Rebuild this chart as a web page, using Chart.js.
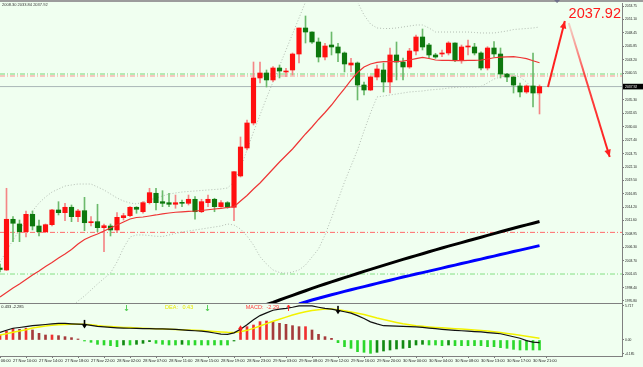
<!DOCTYPE html>
<html>
<head>
<meta charset="utf-8">
<script src="https://cdn.jsdelivr.net/npm/chart.js@4.4.1/dist/chart.umd.min.js"></script>
<style>
  html, body { margin: 0; padding: 0; background: #f0fff0; }
  canvas { display: block; }
</style>
</head>
<body>
<canvas id="xauChart" width="643" height="367"></canvas>
<script>
// H1 candles, 27 Nov 08:00 .. 30 Nov 22:00
const opens = [
  2002.28, 2001.89, 2011.85, 2010.93, 2009.41, 2012.83, 2010.53, 2009.41, 2010.79, 2013.68,
  2013.15, 2014.21, 2012.36, 2013.54, 2011.18, 2011.38, 2010.20, 2010.53, 2009.75, 2012.17,
  2012.56, 2014.21, 2013.34, 2015.11, 2016.96, 2015.31, 2015.11, 2014.80, 2015.11, 2014.99,
  2015.78, 2013.34, 2015.11, 2015.78, 2014.33, 2015.11, 2014.21, 2020.36, 2025.86, 2030.77,
  2039.61, 2040.59, 2039.22, 2041.57, 2040.79, 2041.18, 2044.32, 2049.43, 2048.64, 2046.68,
  2043.73, 2046.09, 2045.70, 2044.52, 2042.16, 2042.55, 2038.23, 2037.25, 2039.80, 2041.18,
  2038.82, 2044.13, 2042.75, 2041.77, 2044.91, 2047.66, 2046.09, 2044.13, 2044.32, 2044.52,
  2046.48, 2043.14, 2045.70, 2045.70, 2044.52, 2041.57, 2045.50, 2044.32, 2040.39, 2039.80,
  2038.04, 2036.86, 2038.04, 2036.66
];
const highs = [
  2003.07, 2017.94, 2012.36, 2011.71, 2013.48, 2013.48, 2011.71, 2010.93, 2013.82, 2015.31,
  2014.99, 2014.66, 2013.82, 2016.17, 2012.36, 2014.80, 2010.93, 2010.93, 2013.15, 2013.03,
  2014.33, 2014.33, 2015.31, 2017.94, 2017.94, 2017.47, 2016.96, 2016.62, 2015.64, 2016.62,
  2016.29, 2015.78, 2016.62, 2015.98, 2015.51, 2015.31, 2021.20, 2028.02, 2031.36, 2042.75,
  2042.75, 2041.18, 2041.83, 2042.16, 2041.51, 2044.52, 2049.43, 2051.79, 2048.70, 2047.47,
  2046.42, 2048.64, 2046.42, 2044.72, 2043.48, 2042.75, 2038.82, 2040.00, 2042.16, 2042.55,
  2045.50, 2046.68, 2043.54, 2045.44, 2048.05, 2049.23, 2046.42, 2044.46, 2045.11, 2046.74,
  2046.54, 2046.09, 2047.07, 2046.42, 2044.77, 2045.76, 2046.74, 2045.50, 2040.53, 2039.86,
  2038.63, 2038.23, 2044.52, 2038.23
];
const lows = [
  2001.50, 2001.79, 2007.45, 2007.45, 2008.37, 2009.75, 2008.57, 2009.22, 2010.53, 2012.70,
  2011.58, 2011.38, 2011.38, 2009.61, 2010.53, 2009.41, 2005.49, 2008.57, 2009.22, 2011.71,
  2012.36, 2013.03, 2013.03, 2014.86, 2013.68, 2014.33, 2014.33, 2014.01, 2014.33, 2014.66,
  2011.85, 2013.15, 2014.33, 2013.34, 2014.21, 2014.01, 2011.58, 2020.16, 2025.46, 2030.38,
  2038.63, 2037.84, 2038.88, 2039.61, 2039.86, 2040.20, 2042.55, 2046.48, 2046.42, 2042.75,
  2043.14, 2044.13, 2042.81, 2040.79, 2040.85, 2035.29, 2036.27, 2037.11, 2039.22, 2036.86,
  2036.66, 2039.22, 2039.22, 2041.51, 2044.13, 2045.11, 2043.48, 2043.48, 2043.79, 2044.13,
  2042.81, 2042.50, 2044.13, 2044.13, 2041.18, 2041.18, 2043.73, 2039.61, 2038.88, 2036.66,
  2035.88, 2036.60, 2033.91, 2032.54
];
const closes = [
  2001.99, 2011.85, 2011.07, 2009.41, 2012.83, 2010.53, 2009.41, 2010.79, 2013.68, 2013.15,
  2014.21, 2012.36, 2013.48, 2011.18, 2011.38, 2010.20, 2010.59, 2009.75, 2012.24, 2012.56,
  2014.21, 2013.82, 2015.11, 2017.08, 2015.11, 2014.99, 2014.80, 2015.11, 2014.99, 2015.78,
  2013.34, 2015.31, 2015.78, 2014.33, 2015.11, 2014.21, 2021.20, 2026.05, 2030.77, 2039.61,
  2040.59, 2039.22, 2041.57, 2040.98, 2040.98, 2044.32, 2049.43, 2048.64, 2046.68, 2043.73,
  2045.89, 2045.70, 2044.52, 2042.36, 2042.55, 2038.23, 2037.25, 2039.80, 2041.38, 2038.82,
  2044.13, 2042.75, 2041.77, 2044.91, 2047.66, 2045.70, 2044.13, 2043.73, 2044.52, 2046.48,
  2043.14, 2045.70, 2045.89, 2044.52, 2041.57, 2045.50, 2044.32, 2040.39, 2039.80, 2038.23,
  2036.86, 2038.04, 2036.66, 2037.92
];

// moving average (thin red) and bollinger bands (dotted)
const maRed = [
  1996.59, 1997.47, 1998.36, 1999.14, 2000.03, 2000.91, 2001.69, 2002.58, 2003.36, 2004.25,
  2005.03, 2005.92, 2007.00, 2007.88, 2008.47, 2008.96, 2009.55, 2010.14, 2010.73, 2011.32,
  2011.91, 2012.20, 2012.30, 2012.50, 2012.70, 2012.93, 2013.09, 2013.23, 2013.32, 2013.42,
  2013.48, 2013.58, 2013.72, 2013.87, 2014.01, 2014.17, 2014.33, 2015.45, 2016.53, 2017.80,
  2018.98, 2020.36, 2021.73, 2023.11, 2024.38, 2025.66, 2027.13, 2028.61, 2029.98, 2031.46,
  2032.83, 2034.30, 2035.97, 2037.54, 2039.21, 2040.69, 2041.77, 2042.36, 2042.69, 2042.81,
  2042.81, 2042.81, 2042.95, 2043.14, 2043.40, 2043.67, 2043.44, 2043.14, 2043.08, 2043.05,
  2043.03, 2043.01, 2043.05, 2043.08, 2043.14, 2043.34, 2043.58, 2043.69, 2043.77, 2043.79,
  2043.63, 2043.42, 2042.99, 2042.61
];
const bbUpper = [
  2003.46, 2005.62, 2007.78, 2009.75, 2011.71, 2013.48, 2015.05, 2016.23, 2017.21, 2017.80,
  2018.39, 2018.59, 2018.78, 2018.78, 2018.78, 2018.20, 2017.61, 2016.82, 2016.03, 2015.45,
  2015.05, 2014.86, 2015.25, 2015.64, 2016.03, 2016.43, 2016.82, 2017.02, 2017.21, 2017.31,
  2017.41, 2017.51, 2017.61, 2017.70, 2017.80, 2018.00, 2019.18, 2021.93, 2025.46, 2029.00,
  2032.34, 2035.68, 2038.82, 2041.96, 2045.11, 2048.25, 2051.39, 2054.54, 2057.29, 2058.86,
  2059.84, 2060.43, 2060.43, 2059.25, 2057.29, 2054.54, 2051.98, 2050.22, 2049.43, 2049.33,
  2049.33, 2049.43, 2049.63, 2049.82, 2050.02, 2050.02, 2049.43, 2048.64, 2048.64, 2048.64,
  2048.64, 2048.64, 2048.64, 2048.55, 2048.45, 2048.45, 2048.45, 2048.64, 2048.84, 2049.13,
  2049.23, 2049.33, 2049.43, 2049.63
];
const bbLower = [
  1985.78, 1985.98, 1986.18, 1986.57, 1987.16, 1987.94, 1988.73, 1989.91, 1991.09, 1992.27,
  1993.44, 1994.62, 1995.80, 1996.78, 1997.96, 1999.14, 2000.22, 2001.30, 2003.46, 2006.21,
  2008.37, 2008.77, 2008.77, 2008.67, 2008.51, 2008.47, 2008.77, 2009.06, 2009.36, 2009.55,
  2009.75, 2009.94, 2010.14, 2010.34, 2010.53, 2010.93, 2010.73, 2009.94, 2008.57, 2006.80,
  2004.50, 2003.07, 2001.89, 2001.40, 2001.24, 2001.50, 2001.89, 2002.87, 2004.44, 2006.02,
  2008.77, 2012.11, 2015.64, 2019.18, 2022.32, 2025.46, 2029.20, 2032.73, 2035.88, 2036.07,
  2036.27, 2036.46, 2036.66, 2036.86, 2036.96, 2037.05, 2037.25, 2037.35, 2037.45, 2037.64,
  2037.74, 2037.84, 2037.84, 2037.84, 2037.94, 2038.63, 2039.41, 2039.80, 2040.00, 2040.20,
  2039.80, 2038.82, 2037.45, 2036.07
];

// slow averages, visible only from these bars on
const maBlackStart = 41;
const maBlack = [
  1995.11, 1995.51, 1996.00, 1996.45, 1996.90, 1997.37, 1997.82, 1998.28, 1998.71, 1999.14,
  1999.55, 1999.97, 2000.38, 2000.79, 2001.20, 2001.62, 2002.01, 2002.40, 2002.79, 2003.19,
  2003.58, 2003.97, 2004.35, 2004.72, 2005.09, 2005.47, 2005.84, 2006.21, 2006.57, 2006.92,
  2007.27, 2007.63, 2007.98, 2008.33, 2008.69, 2009.04, 2009.39, 2009.75, 2010.08, 2010.42,
  2010.75, 2011.08, 2011.42
];
const maBlueStart = 46;
const maBlue = [
  1995.21, 1995.60, 1996.00, 1996.35, 1996.69, 1997.02, 1997.35, 1997.69, 1998.00, 1998.32,
  1998.63, 1998.94, 1999.26, 1999.57, 1999.89, 2000.20, 2000.50, 2000.79, 2001.09, 2001.38,
  2001.67, 2001.97, 2002.26, 2002.56, 2002.85, 2003.15, 2003.44, 2003.74, 2004.03, 2004.33,
  2004.62, 2004.92, 2005.21, 2005.51, 2005.80, 2006.09, 2006.39, 2006.68
];

// MACD pane
const macdHist = [
  0.84, 1.51, 1.96, 1.79, 1.96, 1.68, 1.12, 0.84, 0.84, 0.73, 0.56, 0.39, 0.17,
  -0.17, -0.39, -0.73, -0.84, -0.95, -1.12, -0.84, -0.84, -0.73, -0.56, -0.28, -0.56,
  -0.73, -0.84, -0.84, -0.73, -0.84, -0.84, -0.84, -0.84, -0.84, -0.84, -0.84, -0.17,
  1.96, 2.24, 2.52, 3.08, 3.19, 3.08, 2.80, 2.63, 2.41, 2.24, 2.24, 1.68, 0.95, 0.56, 0.28,
  -0.45, -1.12, -1.40, -1.96, -2.07, -2.24, -2.07, -1.85, -1.68, -1.51, -1.40, -1.29,
  -0.84, -0.73, -0.84, -0.84, -0.95, -0.84, -0.95, -0.95, -0.95, -0.95, -0.95, -1.12,
  -1.12, -1.29, -1.40, -1.57, -1.68, -1.68, -1.68, -1.68
];
const macdDif = [
  1.29, 1.63, 1.97, 2.10, 2.25, 2.40, 2.50, 2.60, 2.70, 2.80,
  2.78, 2.72, 2.68, 2.62, 2.45, 2.30, 2.20, 2.12, 2.05, 2.00,
  1.97, 1.95, 1.92, 1.90, 1.88, 1.86, 1.84, 1.77, 1.70, 1.62,
  1.55, 1.48, 1.35, 1.18, 1.00, 0.95, 1.20, 1.80, 2.55, 3.40,
  4.10, 4.55, 5.00, 5.18, 5.32, 5.50, 5.72, 5.76, 5.72, 5.50,
  5.30, 5.20, 4.98, 4.75, 4.52, 4.10, 3.60, 3.05, 2.70, 2.40,
  2.36, 2.32, 2.28, 2.24, 2.20, 2.12, 2.00, 1.90, 1.80, 1.70,
  1.62, 1.55, 1.50, 1.42, 1.35, 1.25, 1.16, 1.05, 0.80, 0.55,
  0.30, -0.10, -0.35, -0.45
];
const macdDea = [
  0.84, 1.05, 1.30, 1.52, 1.72, 2.02, 2.20, 2.35, 2.46, 2.55,
  2.62, 2.64, 2.64, 2.64, 2.55, 2.42, 2.33, 2.25, 2.18, 2.12,
  2.08, 2.03, 1.98, 1.94, 1.90, 1.86, 1.82, 1.78, 1.73, 1.68,
  1.64, 1.58, 1.50, 1.43, 1.35, 1.29, 1.27, 1.40, 1.62, 1.95,
  2.35, 2.75, 3.15, 3.50, 3.85, 4.20, 4.50, 4.75, 4.95, 5.10,
  5.20, 5.20, 5.10, 4.90, 4.70, 4.50, 4.30, 4.00, 3.70, 3.45,
  3.20, 2.95, 2.72, 2.55, 2.40, 2.30, 2.20, 2.12, 2.05, 1.98,
  1.90, 1.83, 1.75, 1.68, 1.60, 1.50, 1.38, 1.25, 1.10, 0.96,
  0.80, 0.62, 0.45, 0.30
];
const macdCrossBars = [13, 37, 52];
const macdCrossDir = ['down', 'up', 'down'];
const macdMarkBars = [19.4, 31.8, 44.3];
const macdMarkDir = ['down', 'down', 'up'];
const macdTexts = ['0.433 -2.285', 'DEA:   0.43', 'MACD:  -2.29'];
const macdTextBars = [0.2, 25.4, 37.8];

// axes
const priceTicks = [
  2053.75, 2051.10, 2048.45, 2045.85, 2043.20, 2040.55, 2035.30, 2032.65, 2030.00, 2027.40,
  2024.75, 2022.10, 2019.50, 2016.85, 2014.20, 2011.60, 2008.95, 2006.30, 2003.70, 2001.05,
  1998.40, 1995.80
];
const macdTickValues = [5.717, 0, -2.35];
const macdTickLabels = ['5.717', '0.00', '-4.185'];
const timeTickBars = [-2, 2, 6, 10, 14, 18, 22, 26, 30, 34, 38, 42, 46, 50, 54, 58, 62, 66, 70, 74, 78, 82];
const timeTickLabels = [
  '27 Nov 06:00', '27 Nov 10:00', '27 Nov 14:00', '27 Nov 18:00', '27 Nov 22:00',
  '28 Nov 02:00', '28 Nov 07:00', '28 Nov 11:00', '28 Nov 15:00', '28 Nov 19:00',
  '28 Nov 23:00', '29 Nov 03:00', '29 Nov 08:00', '29 Nov 12:00', '29 Nov 16:00',
  '29 Nov 20:00', '30 Nov 00:00', '30 Nov 04:00', '30 Nov 08:00', '30 Nov 13:00',
  '30 Nov 17:00', '30 Nov 21:00'
];

// levels and annotations
const levelPrices = [2040.39, 2040.00, 2009.28, 2001.10];
const lastPrice = 2037.92;
const headerValues = ['2008.30', '2033.84', '2037.92'];
const forecastUp = [[84.3, 2037.84], [86.9, 2050.80]];
const forecastDown = [[87.5, 2050.41], [93.8, 2024.09]];
const shiftMarkBar = 85.7;

const X_MAX = 95.69;
const Y_MIN = 1995.21, Y_MAX = 2054.34;
const M_MIN = -2.69, M_MAX = 6.05;
const FONT = '"Liberation Sans", Arial, sans-serif';

const bars = opens.map((_, i) => i);
const isUp = bars.map(i => closes[i] >= opens[i]);
const histColors = macdHist.map((v, i) => {
    const prev = i > 0 ? macdHist[i - 1] : v;
    if (v >= 0) return v >= prev ? '#f03030' : '#a53b3b';
    return v <= prev ? '#2bd82b' : '#128a12';
});
const levelColors = ['#78d878', '#ff9090', '#ff6c6c', '#84e084'];

function pts(arr, start) {
    return arr.map((v, j) => ({ x: (start || 0) + j, y: v }));
}

function arrowHead(ctx, x0, y0, x1, y1, size, color) {
    const ang = Math.atan2(y1 - y0, x1 - x0);
    ctx.fillStyle = color;
    ctx.beginPath();
    ctx.moveTo(x1, y1);
    ctx.lineTo(x1 - size * Math.cos(ang - 0.42), y1 - size * Math.sin(ang - 0.42));
    ctx.lineTo(x1 - size * Math.cos(ang + 0.42), y1 - size * Math.sin(ang + 0.42));
    ctx.closePath();
    ctx.fill();
}

// keep every dataset inside its own pane
const paneClip = {
    id: 'paneClip',
    beforeDatasetDraw(chart, args) {
        const ys = args.meta.yScale, a = chart.chartArea;
        chart.ctx.save();
        chart.ctx.beginPath();
        chart.ctx.rect(a.left, ys.top, a.right - a.left, ys.bottom - ys.top);
        chart.ctx.clip();
    },
    afterDatasetDraw(chart) {
        chart.ctx.restore();
    }
};

const decor = {
    id: 'decor',
    beforeDraw(chart) {
        const { ctx, width } = chart;
        ctx.save();
        ctx.fillStyle = '#f0fff0';
        ctx.fillRect(0, 0, width, chart.height);
        ctx.fillStyle = '#9c9c9c';
        ctx.fillRect(0, 0, width, 2);
        ctx.restore();
    },
    afterDraw(chart) {
        const { ctx, chartArea: a } = chart;
        const { x, y, yM } = chart.scales;
        ctx.save();

        // pane separator
        ctx.strokeStyle = '#808080';
        ctx.lineWidth = 1;
        ctx.beginPath();
        ctx.moveTo(0, Math.round(y.bottom) - 0.5);
        ctx.lineTo(a.right, Math.round(y.bottom) - 0.5);
        ctx.stroke();

        // chart shift marker
        const sx = x.getPixelForValue(shiftMarkBar);
        ctx.fillStyle = '#70708a';
        ctx.beginPath();
        ctx.moveTo(sx - 3, 0); ctx.lineTo(sx + 3, 0); ctx.lineTo(sx, 3);
        ctx.fill();

        // header values
        ctx.fillStyle = '#333';
        ctx.font = '4px ' + FONT;
        ctx.textBaseline = 'middle';
        ctx.textAlign = 'left';
        ctx.fillText(headerValues.join(' '), 2, 5);

        // current price box
        const py = y.getPixelForValue(lastPrice);
        ctx.fillStyle = '#000';
        ctx.fillRect(a.right + 1, py - 2.8, 20, 5.6);
        ctx.fillStyle = '#fff';
        ctx.font = '3.4px ' + FONT;
        ctx.fillText(lastPrice.toFixed(2), a.right + 3, py + 0.2);

        // big price label
        ctx.fillStyle = '#ff1a1a';
        ctx.font = '14.5px ' + FONT;
        ctx.textAlign = 'right';
        ctx.textBaseline = 'alphabetic';
        ctx.fillText(lastPrice.toFixed(2), a.right - 1, 17.5);

        // forecast arrow heads
        const up0 = [x.getPixelForValue(forecastUp[0][0]), y.getPixelForValue(forecastUp[0][1])];
        const up1 = [x.getPixelForValue(forecastUp[1][0]), y.getPixelForValue(forecastUp[1][1])];
        arrowHead(ctx, up0[0], up0[1], up1[0], up1[1], 8, '#ff2020');
        const dn0 = [x.getPixelForValue(forecastDown[0][0]), y.getPixelForValue(forecastDown[0][1])];
        const dn1 = [x.getPixelForValue(forecastDown[1][0]), y.getPixelForValue(forecastDown[1][1])];
        arrowHead(ctx, dn0[0], dn0[1], dn1[0], dn1[1], 8, '#ff2020');

        // MACD texts
        const ty = yM.top + 3.5;
        ctx.textAlign = 'left';
        ctx.textBaseline = 'middle';
        ctx.font = '4px ' + FONT;
        ctx.fillStyle = '#222';
        ctx.fillText(macdTexts[0], x.getPixelForValue(macdTextBars[0]), ty - 0.5);
        ctx.font = '5.5px ' + FONT;
        ctx.fillStyle = '#e8e800';
        ctx.fillText(macdTexts[1], x.getPixelForValue(macdTextBars[1]), ty);
        ctx.fillStyle = '#ff3a3a';
        ctx.fillText(macdTexts[2], x.getPixelForValue(macdTextBars[2]), ty);

        // small marks at the top of the MACD pane
        macdMarkBars.forEach((b, n) => {
            const mx = Math.round(x.getPixelForValue(b)) + 0.5;
            const down = macdMarkDir[n] === 'down';
            ctx.strokeStyle = down ? '#5ccf5c' : '#ff3030';
            ctx.lineWidth = 1;
            ctx.beginPath();
            ctx.moveTo(mx, yM.top + 1); ctx.lineTo(mx, yM.top + 7);
            if (down) { ctx.moveTo(mx - 1.5, yM.top + 5); ctx.lineTo(mx, yM.top + 7); ctx.lineTo(mx + 1.5, yM.top + 5); }
            else { ctx.moveTo(mx - 1.5, yM.top + 3); ctx.lineTo(mx, yM.top + 1); ctx.lineTo(mx + 1.5, yM.top + 3); }
            ctx.stroke();
        });

        // crossing arrows on the MACD line
        macdCrossBars.forEach((b, n) => {
            const cx = x.getPixelForValue(b), cy = yM.getPixelForValue(macdDif[b]);
            const down = macdCrossDir[n] === 'down';
            ctx.fillStyle = down ? '#000' : '#ff2020';
            ctx.beginPath();
            if (down) {
                ctx.fillRect(cx - 0.8, cy - 4.5, 1.6, 5);
                ctx.moveTo(cx - 2.6, cy); ctx.lineTo(cx + 2.6, cy); ctx.lineTo(cx, cy + 4);
            } else {
                ctx.fillRect(cx - 0.8, cy - 0.5, 1.6, 5);
                ctx.moveTo(cx - 2.6, cy); ctx.lineTo(cx + 2.6, cy); ctx.lineTo(cx, cy - 4);
            }
            ctx.fill();
        });

        ctx.restore();
    }
};

const line = (data, color, width, order, extra) => Object.assign({
    type: 'line', data, borderColor: color, borderWidth: width, pointRadius: 0,
    tension: 0, order, yAxisID: 'y'
}, extra || {});

const datasets = [];
levelPrices.forEach((p, n) => {
    datasets.push(line([{ x: 0, y: p }, { x: X_MAX, y: p }], levelColors[n], 1, 30, { borderDash: [5, 2, 1, 2] }));
});
datasets.push(line([{ x: 0, y: lastPrice }, { x: X_MAX, y: lastPrice }], '#aab7b7', 1, 29));
datasets.push(line(pts(bbUpper), '#b3bdb3', 1, 20, { borderDash: [1, 2] }));
datasets.push(line(pts(bbLower), '#b3bdb3', 1, 20, { borderDash: [1, 2] }));
datasets.push({
    type: 'bar', yAxisID: 'y', order: 12, grouped: false, barThickness: 1,
    data: bars.map(i => ({ x: i, y: [lows[i], highs[i]] })),
    backgroundColor: isUp.map(u => u ? '#f48686' : '#6cba6c')
});
datasets.push({
    type: 'bar', yAxisID: 'y', order: 11, grouped: false, barThickness: 4.5, minBarLength: 1,
    data: bars.map(i => ({ x: i, y: [opens[i], closes[i]] })),
    backgroundColor: isUp.map(u => u ? '#ff0f0f' : '#0d780d')
});
datasets.push(line(pts(maBlack, maBlackStart), '#000000', 3, 8));
datasets.push(line(pts(maBlue, maBlueStart), '#0000ff', 3, 8));
datasets.push(line(pts(maRed), '#ee3535', 1.2, 7));
datasets.push(line(forecastUp.map(([bx, p]) => ({ x: bx, y: p })), '#ff2020', 2, 1));
datasets.push(line(forecastDown.map(([bx, p]) => ({ x: bx, y: p })), function (c) {
    const ch = c.chart, xs = ch.scales.x, ys = ch.scales.y;
    if (!xs || !ys || !ch.chartArea) return '#ff2020';
    const g = ch.ctx.createLinearGradient(
        xs.getPixelForValue(forecastDown[0][0]), ys.getPixelForValue(forecastDown[0][1]),
        xs.getPixelForValue(forecastDown[1][0]), ys.getPixelForValue(forecastDown[1][1]));
    g.addColorStop(0, 'rgba(255,80,80,0.25)');
    g.addColorStop(0.4, 'rgba(255,40,40,0.85)');
    g.addColorStop(1, '#ff1a1a');
    return g;
}, 2, 1));
datasets.push({
    type: 'bar', yAxisID: 'yM', order: 6, grouped: false, barThickness: 2,
    data: pts(macdHist), backgroundColor: histColors
});
datasets.push(line(pts(macdDea), '#f2f200', 1.5, 5, { yAxisID: 'yM' }));
datasets.push(line(pts(macdDif), '#111111', 1.2, 4, { yAxisID: 'yM' }));

const tickFont = { size: 3.3, family: FONT };

new Chart(document.getElementById('xauChart'), {
    type: 'bar',
    data: { datasets },
    plugins: [paneClip, decor],
    options: {
        responsive: false,
        animation: false,
        events: [],
        layout: { padding: { top: 3, left: 0, right: 0, bottom: 0 } },
        plugins: { legend: { display: false }, tooltip: { enabled: false } },
        scales: {
            x: {
                type: 'linear', min: 0, max: X_MAX, offset: false,
                grid: { display: true, drawOnChartArea: false, tickLength: 2, color: '#777' },
                border: { color: '#808080' },
                ticks: {
                    autoSkip: false, maxRotation: 0, minRotation: 0, align: 'start', padding: 0,
                    font: { size: 4, family: FONT }, color: '#222',
                    callback: (v, i) => timeTickLabels[i]
                },
                afterBuildTicks: s => { s.ticks = timeTickBars.map(v => ({ value: v })); },
                afterFit: s => { s.height = 11; s.paddingLeft = 0; s.paddingRight = 0; }
            },
            y: {
                type: 'linear', position: 'right', stack: 'panes', stackWeight: 301,
                min: Y_MIN, max: Y_MAX,
                grid: { drawOnChartArea: false, tickLength: 2, color: '#777' },
                border: { color: '#808080' },
                ticks: { padding: 1, font: tickFont, color: '#222', callback: v => v.toFixed(2) },
                afterBuildTicks: s => { s.ticks = priceTicks.map(v => ({ value: v })); },
                afterFit: s => { s.width = 21; s.paddingTop = 0; s.paddingBottom = 0; }
            },
            yM: {
                type: 'linear', position: 'right', stack: 'panes', stackWeight: 52,
                min: M_MIN, max: M_MAX,
                grid: { drawOnChartArea: false, tickLength: 2, color: '#777' },
                border: { color: '#808080' },
                ticks: { padding: 1, font: tickFont, color: '#222', callback: (v, i) => macdTickLabels[i] },
                afterBuildTicks: s => { s.ticks = macdTickValues.map(v => ({ value: v })); },
                afterFit: s => { s.width = 21; s.paddingTop = 0; s.paddingBottom = 0; }
            }
        }
    }
});
</script>
</body>
</html>
